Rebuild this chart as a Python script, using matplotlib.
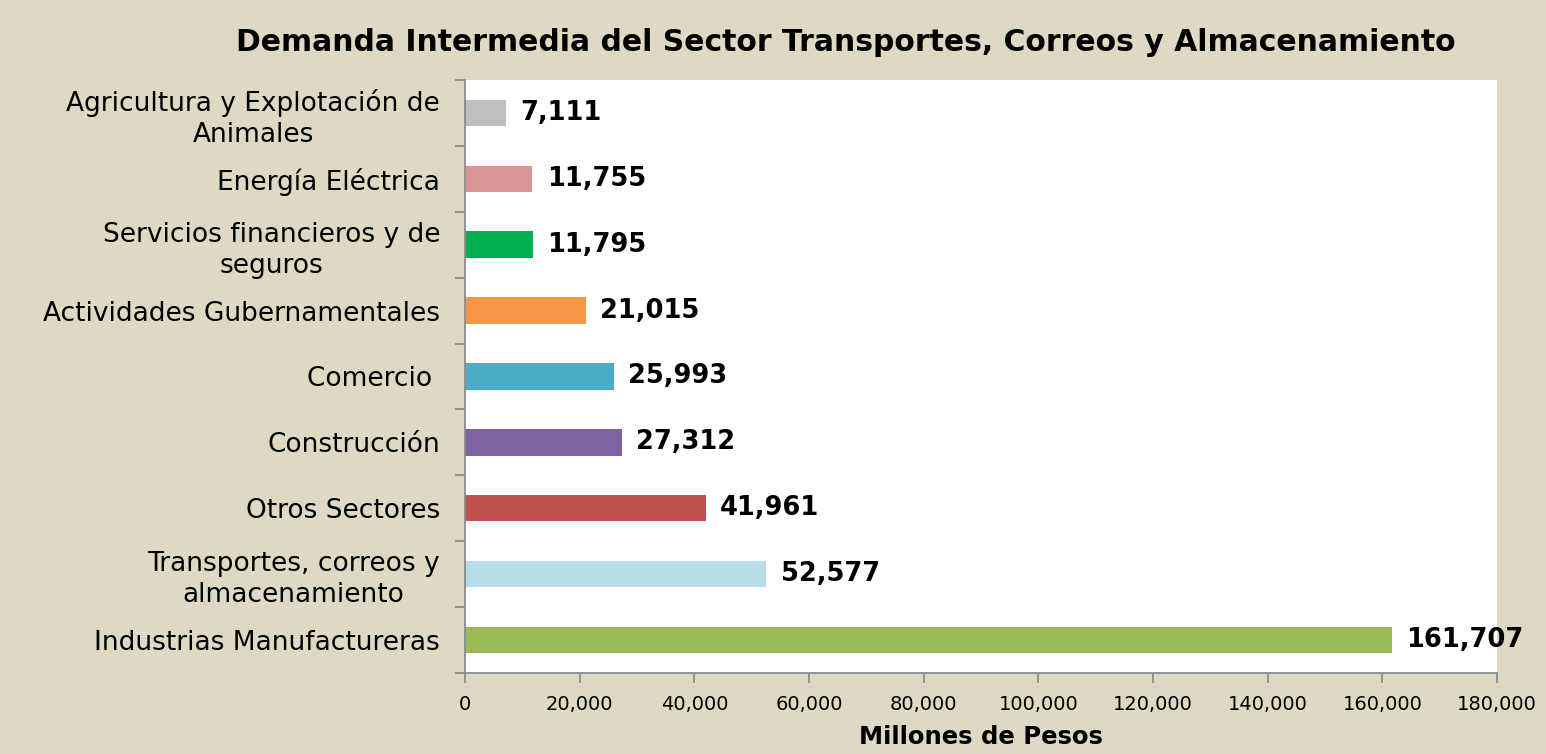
import matplotlib
matplotlib.use("Agg")
import matplotlib.pyplot as plt
import numpy as np

# data, top to bottom as in the chart
sectores = ["Agricultura y Explotación de\nAnimales", "Energía Eléctrica",
            "Servicios financieros y de\nseguros", "Actividades Gubernamentales",
            "Comercio ", "Construcción", "Otros Sectores",
            "Transportes, correos y\nalmacenamiento", "Industrias Manufactureras"]
valores = [7111, 11755, 11795, 21015, 25993, 27312, 41961, 52577, 161707]
colores = ["#BFBFBF", "#D99694", "#00B050", "#F79646", "#4BACC6",
           "#8064A2", "#C0504D", "#B7DEE8", "#9BBB59"]
xticks = [0, 20000, 40000, 60000, 80000, 100000, 120000, 140000, 160000, 180000]

fondo = "#DDD9C3"
eje = "#8C8C8C"
plt.rcParams['font.family'] = ['DejaVu Sans']

fig = plt.figure(figsize=(15.46, 7.54), dpi=100, facecolor=fondo)
ax = fig.add_axes([0.3008, 0.1074, 0.6675, 0.7866])
ax.set_facecolor("white")

n = len(valores)
pos = np.arange(n)[::-1]
ax.barh(pos, valores, height=0.4, color=colores)
for p, v in zip(pos, valores):
    ax.text(v + 2500, p, f"{v:,}", va="center", ha="left",
            fontsize=18.5, fontweight="bold", color="black", clip_on=False)

ax.set_ylim(-0.5, n - 0.5)
ax.set_xlim(0, 180000)
ax.set_yticks(pos)
ax.set_yticklabels(sectores, fontsize=19, linespacing=1.25, multialignment="center")
ax.set_yticks(np.arange(n + 1) - 0.5, minor=True)
ax.tick_params(axis="y", which="major", length=0, pad=18)
ax.tick_params(axis="y", which="minor", length=7, color=eje, width=1.3)
ax.set_xticks(xticks)
ax.set_xticklabels([f"{t:,}" for t in xticks], fontsize=14)
ax.tick_params(axis="x", length=7, color=eje, width=1.3, pad=9)

for s in ["top", "right"]:
    ax.spines[s].set_visible(False)
for s in ["left", "bottom"]:
    ax.spines[s].set_color(eje)
    ax.spines[s].set_linewidth(1.3)

ax.set_xlabel("Millones de Pesos", fontsize=17.5, fontweight="bold", labelpad=8)
fig.text(0.547, 0.944, "Demanda Intermedia del Sector Transportes, Correos y Almacenamiento",
         ha="center", va="center", fontsize=21.5, fontweight="bold")

fig.savefig("out.png", dpi=100, facecolor=fondo)
